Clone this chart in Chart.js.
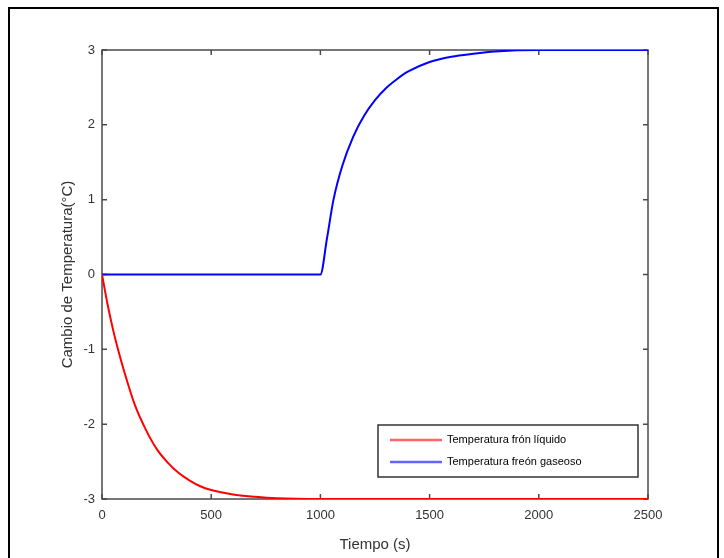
<!DOCTYPE html>
<html>
<head>
<meta charset="utf-8">
<title>Cambio de Temperatura</title>
<script src="https://cdn.jsdelivr.net/npm/chart.js@4.4.1/dist/chart.umd.min.js"></script>
<style>
  html, body { margin: 0; padding: 0; background: #fff; }
  canvas { display: block; background: #fff; }
</style>
</head>
<body>
<canvas id="grafico" width="724" height="558"></canvas>
<script>
// Valores
const tiempoLiquido = [0, 25, 50, 75, 100, 150, 200, 250, 300, 350, 400, 450, 500, 600, 700, 800, 1000, 1500, 2000, 2500];
const tempLiquido   = [0, -0.39, -0.73, -1.02, -1.28, -1.74, -2.07, -2.33, -2.51, -2.65, -2.75, -2.83, -2.88, -2.94, -2.97, -2.99, -3, -3, -3, -3];

const tiempoGaseoso = [0, 1000, 1030, 1060, 1100, 1150, 1200, 1250, 1300, 1350, 1400, 1500, 1600, 1700, 1800, 2000, 2500];
const tempGaseoso   = [0, 0, 0.48, 1.0, 1.45, 1.84, 2.12, 2.33, 2.49, 2.61, 2.71, 2.84, 2.91, 2.95, 2.98, 3, 3];

const ticksX = [0, 500, 1000, 1500, 2000, 2500];
const ticksY = [-3, -2, -1, 0, 1, 2, 3];

const nombres = ['Temperatura frón líquido', 'Temperatura freón gaseoso'];
const colores = ['rgb(255,0,0)', 'rgb(0,0,255)'];
const coloresLeyenda = ['rgb(255,100,100)', 'rgb(100,100,255)'];

const toPoints = (xs, ys) => xs.map((x, i) => ({ x: x, y: ys[i] }));

const FONT = 'Arial, "Liberation Sans", Helvetica, sans-serif';

// Caja estilo MATLAB con marcas hacia dentro, marco exterior y leyenda
const cajaPlugin = {
    id: 'caja',
    beforeDatasetsDraw(chart) {
        const { ctx, chartArea: a, scales } = chart;
        ctx.save();
        ctx.strokeStyle = '#4a4a4a';
        ctx.lineWidth = 1.5;
        ctx.strokeRect(a.left, a.top, a.right - a.left, a.bottom - a.top);
        ctx.beginPath();
        const len = 5;
        ticksX.forEach(v => {
            const px = scales.x.getPixelForValue(v);
            ctx.moveTo(px, a.bottom); ctx.lineTo(px, a.bottom - len);
            ctx.moveTo(px, a.top); ctx.lineTo(px, a.top + len);
        });
        ticksY.forEach(v => {
            const py = scales.y.getPixelForValue(v);
            ctx.moveTo(a.left, py); ctx.lineTo(a.left + len, py);
            ctx.moveTo(a.right, py); ctx.lineTo(a.right - len, py);
        });
        ctx.stroke();
        ctx.restore();
    },
    afterDraw(chart) {
        const { ctx } = chart;
        ctx.save();
        // marco exterior
        ctx.strokeStyle = '#000';
        ctx.lineWidth = 2;
        ctx.beginPath();
        ctx.moveTo(9, 560);
        ctx.lineTo(9, 8);
        ctx.lineTo(718, 8);
        ctx.lineTo(718, 560);
        ctx.stroke();

        // leyenda
        const bx = 378, by = 425, bw = 260, bh = 52;
        ctx.fillStyle = '#fff';
        ctx.fillRect(bx, by, bw, bh);
        ctx.strokeStyle = '#333';
        ctx.lineWidth = 1.5;
        ctx.strokeRect(bx, by, bw, bh);
        ctx.font = '11px ' + FONT;
        ctx.textBaseline = 'middle';
        ctx.fillStyle = '#000';
        nombres.forEach((n, i) => {
            const y = by + 15 + i * 22;
            ctx.strokeStyle = coloresLeyenda[i];
            ctx.lineWidth = 2.5;
            ctx.beginPath();
            ctx.moveTo(bx + 12, y);
            ctx.lineTo(bx + 64, y);
            ctx.stroke();
            ctx.fillText(n, bx + 69, y);
        });
        ctx.restore();
    }
};

const ctx = document.getElementById('grafico').getContext('2d');
new Chart(ctx, {
    type: 'line',
    data: {
        datasets: [
            {
                label: nombres[0],
                data: toPoints(tiempoLiquido, tempLiquido),
                borderColor: colores[0],
                borderWidth: 2,
                pointRadius: 0,
                cubicInterpolationMode: 'monotone',
                fill: false
            },
            {
                label: nombres[1],
                data: toPoints(tiempoGaseoso, tempGaseoso),
                borderColor: colores[1],
                borderWidth: 2,
                pointRadius: 0,
                cubicInterpolationMode: 'monotone',
                fill: false
            }
        ]
    },
    options: {
        responsive: false,
        animation: false,
        devicePixelRatio: 1,
        layout: { padding: { left: 59, top: 50, right: 76, bottom: 4 } },
        plugins: {
            legend: { display: false },
            tooltip: { enabled: false }
        },
        scales: {
            x: {
                type: 'linear',
                min: 0,
                max: 2500,
                afterBuildTicks: s => { s.ticks = ticksX.map(v => ({ value: v })); },
                afterFit: s => { s.height = 55; },
                border: { display: false },
                grid: { display: false, drawTicks: false, tickLength: 0 },
                ticks: {
                    padding: 9,
                    color: '#333',
                    font: { family: FONT, size: 13 },
                    maxRotation: 0,
                    callback: v => String(v)
                },
                title: {
                    display: true,
                    text: 'Tiempo (s)',
                    color: '#333',
                    padding: 0,
                    font: { family: FONT, size: 15 }
                }
            },
            y: {
                type: 'linear',
                min: -3,
                max: 3,
                afterBuildTicks: s => { s.ticks = ticksY.map(v => ({ value: v })); },
                afterFit: s => { s.width = 43; },
                border: { display: false },
                grid: { display: false, drawTicks: false, tickLength: 0 },
                ticks: {
                    padding: 7,
                    color: '#333',
                    font: { family: FONT, size: 13 },
                    callback: v => String(v)
                },
                title: {
                    display: true,
                    text: 'Cambio de Temperatura(°C)',
                    color: '#333',
                    padding: 0,
                    font: { family: FONT, size: 15 }
                }
            }
        }
    },
    plugins: [cajaPlugin]
});
</script>
</body>
</html>
